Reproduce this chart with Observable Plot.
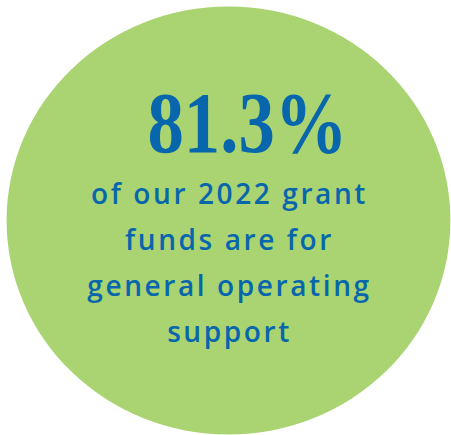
<!DOCTYPE html>
<html>
<head>
<meta charset="utf-8">
<script src="https://cdn.jsdelivr.net/npm/d3@7"></script>
<script src="https://cdn.jsdelivr.net/npm/@observablehq/plot@0.6"></script>
<style>
  html, body { margin: 0; padding: 0; background: #ffffff; }
  #chart svg { display: block; }
</style>
</head>
<body>
<div id="chart"></div>
<script>
// Data
const statValue = [81.3];
const statUnit = "%";
const captionLines = [
  "of our 2022 grant",
  "funds are for",
  "general operating",
  "support"
];

const green = "#a9d471";
const blue = "#0866ac";

const plot = Plot.plot({
  width: 451,
  height: 435,
  margin: 0,
  x: {axis: null},
  y: {axis: null, type: "point", domain: captionLines, range: [195, 333], padding: 0},
  marks: [
    Plot.dot([0], {frameAnchor: "middle", dx: 2.5, dy: 2.5, r: 214, fill: green, stroke: "none"}),
    Plot.text(statValue, {
      text: d => d + statUnit,
      frameAnchor: "top",
      lineAnchor: "middle",
      dx: 21.5,
      dy: 124,
      fill: blue,
      fontSize: 86,
      fontWeight: "bold",
      fontFamily: "'Liberation Serif', 'DejaVu Serif', serif"
    }),
    Plot.text(captionLines, {
      y: d => d,
      text: d => d,
      frameAnchor: "middle",
      lineAnchor: "middle",
      dx: 3.5,
      fill: blue,
      fontSize: 28,
      fontWeight: 600,
      fontFamily: "'Open Sans', Lato, sans-serif",
      className: "caption"
    })
  ]
});
document.getElementById("chart").appendChild(plot);

// stretch circle slightly into the reference's ellipse, compress headline, widen caption
const svg = d3.select(plot);
svg.selectAll("circle").each(function() {
  const c = d3.select(this);
  const cx = +c.attr("cx"), cy = +c.attr("cy");
  c.attr("transform", `translate(${cx},${cy}) scale(1.037,1) translate(${-cx},${-cy})`);
});
svg.selectAll("text").filter(function() { return this.textContent === statValue[0] + statUnit; })
  .attr("textLength", 200).attr("lengthAdjust", "spacingAndGlyphs");
svg.selectAll(".caption text").style("letter-spacing", "2.6px");
</script>
</body>
</html>
